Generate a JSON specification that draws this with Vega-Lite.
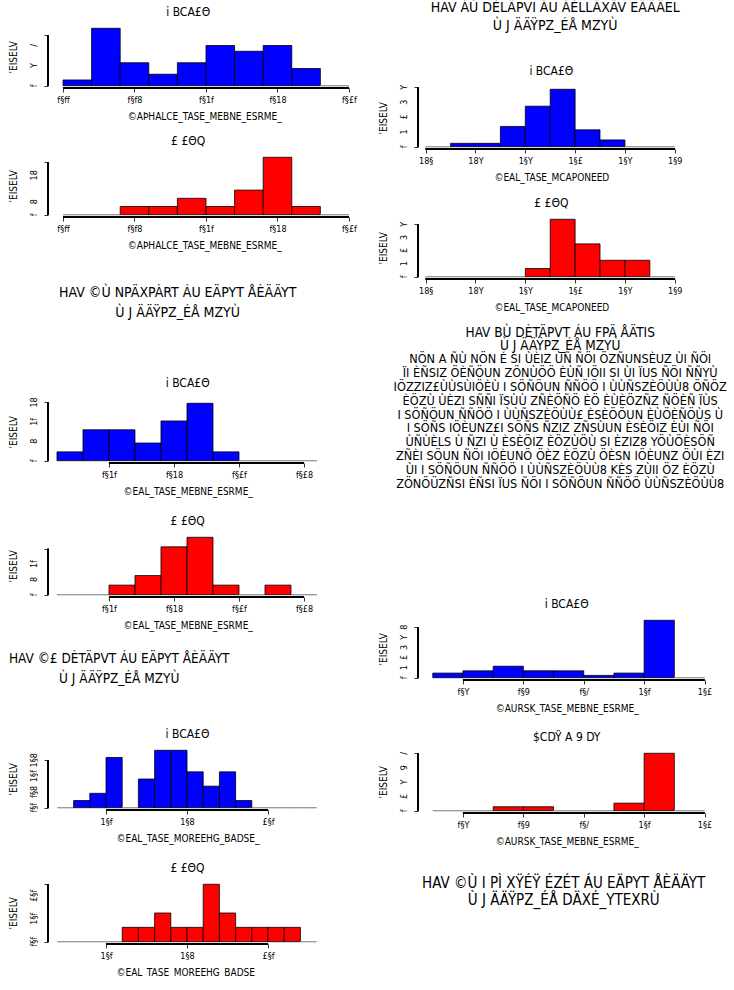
{
  "$schema": "https://vega.github.io/schema/vega-lite/v6.json",
  "background": "#ffffff",
  "padding": {"left": 8, "top": 0, "right": 0, "bottom": 0},
  "config": {
    "view": {"stroke": null},
    "font": "Liberation Sans Narrow, DejaVu Sans Condensed, Liberation Sans, sans-serif",
    "title": {"font": "Liberation Sans Narrow, DejaVu Sans Condensed, Liberation Sans, sans-serif", "fontSize": 12, "fontWeight": "normal", "color": "#000000", "offset": 7, "anchor": "middle", "frame": "group"},
    "axis": {"domain": false, "grid": false, "tickColor": "#000000", "tickSize": 4, "tickWidth": 0.8, "labelFont": "Liberation Sans Narrow, DejaVu Sans Condensed, Liberation Sans, sans-serif", "labelFontSize": 9, "labelColor": "#000000", "labelFlush": false, "labelOverlap": false, "titleFont": "Liberation Sans Narrow, DejaVu Sans Condensed, Liberation Sans, sans-serif", "titleFontSize": 10, "titleFontWeight": "normal", "titleColor": "#000000"},
    "axisX": {"labelPadding": 3, "titlePadding": 7, "labelAngle": 0},
    "axisY": {"titleX": -35, "titleBaseline": "middle"},
    "text": {"font": "Liberation Sans Narrow, DejaVu Sans Condensed, Liberation Sans, sans-serif", "fontSize": 9, "color": "#000000", "angle": 270, "align": "center", "baseline": "bottom", "dy": -9}
  },
  "spacing": 17,
  "hconcat": [
    {
      "bounds": "flush",
      "spacing": 0,
      "vconcat": [
        {"width": 279.4, "height": 26, "data": {"values": []}, "mark": {"type": "point", "opacity": 0}},
        {
          "width": 312.4, "height": 62,
          "title": {"text": "i BCA£Θ", "dx": -16},
          "data": {"values": [
            {"lo": 0.00, "hi": 0.02, "density": 1.136},
            {"lo": 0.02, "hi": 0.04, "density": 11.364},
            {"lo": 0.04, "hi": 0.06, "density": 4.545},
            {"lo": 0.06, "hi": 0.08, "density": 2.273},
            {"lo": 0.08, "hi": 0.10, "density": 4.545},
            {"lo": 0.10, "hi": 0.12, "density": 7.955},
            {"lo": 0.12, "hi": 0.14, "density": 6.818},
            {"lo": 0.14, "hi": 0.16, "density": 7.955},
            {"lo": 0.16, "hi": 0.18, "density": 3.409},
            {"lo": 0.18, "hi": 0.20, "density": 0}
          ]},
          "layer": [
            {
              "mark": {"type": "rect", "fill": "#0000ff", "strokeWidth": 0.8},
              "encoding": {
                "x": {"field": "lo", "type": "quantitative", "scale": {"domain": [-0.0105, 0.208], "nice": false, "zero": false},
                  "axis": {"values": [0, 0.05, 0.1, 0.15, 0.2], "format": ".2f", "title": "©AÞHALCE_TASE_MEBNE_ESRME_",
                    "labelExpr": "datum.label=='0.00'?'f§ff':datum.label=='0.05'?'f§f8':datum.label=='0.10'?'f§1f':datum.label=='0.15'?'f§18':'f§£f'"}},
                "x2": {"field": "hi"},
                "y": {"field": "density", "type": "quantitative", "scale": {"domain": [-0.4545, 11.818], "nice": false, "zero": false},
                  "axis": {"values": [0, 2, 4, 6, 8, 10], "labels": false, "title": "’EISELV"}},
                "y2": {"datum": 0},
                "stroke": {"condition": {"test": "datum.density == 0", "value": "#8c8c8c"}, "value": "#000000"}
              }
            },
            {"mark": {"type": "rule", "stroke": "#000000", "strokeWidth": 0.8}, "encoding": {"x": {"datum": 0}, "x2": {"datum": 0.2}, "y": {"datum": -0.4545}}},
            {"mark": {"type": "rule", "stroke": "#000000", "strokeWidth": 0.8}, "encoding": {"x": {"datum": -0.0105}, "y": {"datum": 0}, "y2": {"datum": 10}}},
            {
              "data": {"values": [{"v": 0, "t": "f"}, {"v": 4, "t": "Y"}, {"v": 8, "t": "/"}]},
              "mark": "text",
              "encoding": {"x": {"datum": -0.0105}, "y": {"field": "v", "type": "quantitative"}, "text": {"field": "t"}}
            }
          ]
        },
        {"width": 279.4, "height": 66.8, "data": {"values": []}, "mark": {"type": "point", "opacity": 0}},
        {
          "width": 312.4, "height": 62,
          "title": {"text": "£ £ΘQ", "dx": -16},
          "data": {"values": [
            {"lo": 0.00, "hi": 0.02, "density": 0},
            {"lo": 0.02, "hi": 0.04, "density": 0},
            {"lo": 0.04, "hi": 0.06, "density": 3.125},
            {"lo": 0.06, "hi": 0.08, "density": 3.125},
            {"lo": 0.08, "hi": 0.10, "density": 6.25},
            {"lo": 0.10, "hi": 0.12, "density": 3.125},
            {"lo": 0.12, "hi": 0.14, "density": 9.375},
            {"lo": 0.14, "hi": 0.16, "density": 21.875},
            {"lo": 0.16, "hi": 0.18, "density": 3.125},
            {"lo": 0.18, "hi": 0.20, "density": 0}
          ]},
          "layer": [
            {
              "mark": {"type": "rect", "fill": "#ff0000", "strokeWidth": 0.8},
              "encoding": {
                "x": {"field": "lo", "type": "quantitative", "scale": {"domain": [-0.0105, 0.208], "nice": false, "zero": false},
                  "axis": {"values": [0, 0.05, 0.1, 0.15, 0.2], "format": ".2f", "title": "©AÞHALCE_TASE_MEBNE_ESRME_",
                    "labelExpr": "datum.label=='0.00'?'f§ff':datum.label=='0.05'?'f§f8':datum.label=='0.10'?'f§1f':datum.label=='0.15'?'f§18':'f§£f'"}},
                "x2": {"field": "hi"},
                "y": {"field": "density", "type": "quantitative", "scale": {"domain": [-0.875, 22.75], "nice": false, "zero": false},
                  "axis": {"values": [0, 5, 10, 15, 20], "labels": false, "title": "’EISELV"}},
                "y2": {"datum": 0},
                "stroke": {"condition": {"test": "datum.density == 0", "value": "#8c8c8c"}, "value": "#000000"}
              }
            },
            {"mark": {"type": "rule", "stroke": "#000000", "strokeWidth": 0.8}, "encoding": {"x": {"datum": 0}, "x2": {"datum": 0.2}, "y": {"datum": -0.875}}},
            {"mark": {"type": "rule", "stroke": "#000000", "strokeWidth": 0.8}, "encoding": {"x": {"datum": -0.0105}, "y": {"datum": 0}, "y2": {"datum": 20}}},
            {
              "data": {"values": [{"v": 0, "t": "f"}, {"v": 5, "t": "8"}, {"v": 15, "t": "18"}]},
              "mark": "text",
              "encoding": {"x": {"datum": -0.0105}, "y": {"field": "v", "type": "quantitative"}, "text": {"field": "t"}}
            }
          ]
        },
        {
          "width": 279.4, "height": 183.4,
          "title": {"text": ["HAV ©Ù NPÄXPÀRT ÁU EÄPYT ÅÈÄÄYT", "Ù J ÄÄŸPZ_ÉÅ MZYÙ"], "fontSize": 14, "lineHeight": 20, "baseline": "top", "offset": 0, "dy": 102.7, "dx": -10},
          "data": {"values": []}, "mark": {"type": "point", "opacity": 0}
        },
        {
          "width": 279.4, "height": 62,
          "title": "i BCA£Θ",
          "data": {"values": [
            {"lo": 0.06, "hi": 0.08, "density": 2.273},
            {"lo": 0.08, "hi": 0.10, "density": 7.955},
            {"lo": 0.10, "hi": 0.12, "density": 7.955},
            {"lo": 0.12, "hi": 0.14, "density": 4.545},
            {"lo": 0.14, "hi": 0.16, "density": 10.227},
            {"lo": 0.16, "hi": 0.18, "density": 14.773},
            {"lo": 0.18, "hi": 0.20, "density": 2.273},
            {"lo": 0.20, "hi": 0.22, "density": 0},
            {"lo": 0.22, "hi": 0.24, "density": 0},
            {"lo": 0.24, "hi": 0.26, "density": 0}
          ]},
          "layer": [
            {
              "mark": {"type": "rect", "fill": "#0000ff", "strokeWidth": 0.8},
              "encoding": {
                "x": {"field": "lo", "type": "quantitative", "scale": {"domain": [0.0531, 0.268], "nice": false, "zero": false},
                  "axis": {"values": [0.1, 0.15, 0.2, 0.25], "format": ".2f", "title": "©EAL_TASE_MEBNE_ESRME_",
                    "labelExpr": "datum.label=='0.10'?'f§1f':datum.label=='0.15'?'f§18':datum.label=='0.20'?'f§£f':'f§£8'"}},
                "x2": {"field": "hi"},
                "y": {"field": "density", "type": "quantitative", "scale": {"domain": [-0.591, 15.364], "nice": false, "zero": false},
                  "axis": {"values": [0, 5, 10, 15], "labels": false, "title": "’EISELV"}},
                "y2": {"datum": 0},
                "stroke": {"condition": {"test": "datum.density == 0", "value": "#8c8c8c"}, "value": "#000000"}
              }
            },
            {"mark": {"type": "rule", "stroke": "#000000", "strokeWidth": 0.8}, "encoding": {"x": {"datum": 0.1}, "x2": {"datum": 0.25}, "y": {"datum": -0.591}}},
            {"mark": {"type": "rule", "stroke": "#000000", "strokeWidth": 0.8}, "encoding": {"x": {"datum": 0.0531}, "y": {"datum": 0}, "y2": {"datum": 15}}},
            {
              "data": {"values": [{"v": 0, "t": "f"}, {"v": 5, "t": "8"}, {"v": 10, "t": "1f"}, {"v": 15, "t": "18"}]},
              "mark": "text",
              "encoding": {"x": {"datum": 0.0531}, "y": {"field": "v", "type": "quantitative"}, "text": {"field": "t"}}
            }
          ]
        },
        {"width": 279.4, "height": 71.2, "data": {"values": []}, "mark": {"type": "point", "opacity": 0}},
        {
          "width": 279.4, "height": 62,
          "title": "£ £ΘQ",
          "data": {"values": [
            {"lo": 0.06, "hi": 0.08, "density": 0},
            {"lo": 0.08, "hi": 0.10, "density": 0},
            {"lo": 0.10, "hi": 0.12, "density": 3.125},
            {"lo": 0.12, "hi": 0.14, "density": 6.25},
            {"lo": 0.14, "hi": 0.16, "density": 15.625},
            {"lo": 0.16, "hi": 0.18, "density": 18.75},
            {"lo": 0.18, "hi": 0.20, "density": 3.125},
            {"lo": 0.20, "hi": 0.22, "density": 0},
            {"lo": 0.22, "hi": 0.24, "density": 3.125},
            {"lo": 0.24, "hi": 0.26, "density": 0}
          ]},
          "layer": [
            {
              "mark": {"type": "rect", "fill": "#ff0000", "strokeWidth": 0.8},
              "encoding": {
                "x": {"field": "lo", "type": "quantitative", "scale": {"domain": [0.0531, 0.268], "nice": false, "zero": false},
                  "axis": {"values": [0.1, 0.15, 0.2, 0.25], "format": ".2f", "title": "©EAL_TASE_MEBNE_ESRME_",
                    "labelExpr": "datum.label=='0.10'?'f§1f':datum.label=='0.15'?'f§18':datum.label=='0.20'?'f§£f':'f§£8'"}},
                "x2": {"field": "hi"},
                "y": {"field": "density", "type": "quantitative", "scale": {"domain": [-0.75, 19.5], "nice": false, "zero": false},
                  "axis": {"values": [0, 5, 10, 15], "labels": false, "title": "’EISELV"}},
                "y2": {"datum": 0},
                "stroke": {"condition": {"test": "datum.density == 0", "value": "#8c8c8c"}, "value": "#000000"}
              }
            },
            {"mark": {"type": "rule", "stroke": "#000000", "strokeWidth": 0.8}, "encoding": {"x": {"datum": 0.1}, "x2": {"datum": 0.25}, "y": {"datum": -0.75}}},
            {"mark": {"type": "rule", "stroke": "#000000", "strokeWidth": 0.8}, "encoding": {"x": {"datum": 0.0531}, "y": {"datum": 0}, "y2": {"datum": 15}}},
            {
              "data": {"values": [{"v": 0, "t": "f"}, {"v": 5, "t": "8"}, {"v": 10, "t": "1f"}]},
              "mark": "text",
              "encoding": {"x": {"datum": 0.0531}, "y": {"field": "v", "type": "quantitative"}, "text": {"field": "t"}}
            }
          ]
        },
        {
          "width": 279.4, "height": 150.1,
          "title": {"text": ["HAV ©£ DÈTÄPVT ÁU EÄPYT ÅÈÄÄYT", "Ù J ÄÄŸPZ_ÉÅ MZYÙ"], "fontSize": 13.5, "lineHeight": 20, "baseline": "top", "offset": 0, "dy": 88.4, "dx": -68.5},
          "data": {"values": []}, "mark": {"type": "point", "opacity": 0}
        },
        {
          "width": 279, "height": 62,
          "title": "i BCA£Θ",
          "data": {"values": [
            {"lo": 0.7, "hi": 0.8, "density": 0},
            {"lo": 0.8, "hi": 0.9, "density": 0.227},
            {"lo": 0.9, "hi": 1.0, "density": 0.455},
            {"lo": 1.0, "hi": 1.1, "density": 1.591},
            {"lo": 1.1, "hi": 1.2, "density": 0},
            {"lo": 1.2, "hi": 1.3, "density": 0.909},
            {"lo": 1.3, "hi": 1.4, "density": 1.818},
            {"lo": 1.4, "hi": 1.5, "density": 1.818},
            {"lo": 1.5, "hi": 1.6, "density": 1.136},
            {"lo": 1.6, "hi": 1.7, "density": 0.682},
            {"lo": 1.7, "hi": 1.8, "density": 1.136},
            {"lo": 1.8, "hi": 1.9, "density": 0.227},
            {"lo": 1.9, "hi": 2.0, "density": 0},
            {"lo": 2.0, "hi": 2.1, "density": 0},
            {"lo": 2.1, "hi": 2.2, "density": 0},
            {"lo": 2.2, "hi": 2.3, "density": 0}
          ]},
          "layer": [
            {
              "mark": {"type": "rect", "fill": "#0000ff", "strokeWidth": 0.8},
              "encoding": {
                "x": {"field": "lo", "type": "quantitative", "scale": {"domain": [0.642, 2.364], "nice": false, "zero": false},
                  "axis": {"values": [1, 1.5, 2], "format": ".1f", "title": "©EAL_TASE_MOREEHG_BADSE_",
                    "labelExpr": "datum.label=='1.0'?'1§f':datum.label=='1.5'?'1§8':'£§f'"}},
                "x2": {"field": "hi"},
                "y": {"field": "density", "type": "quantitative", "scale": {"domain": [-0.0727, 1.891], "nice": false, "zero": false},
                  "axis": {"values": [0, 0.5, 1, 1.5], "labels": false, "title": "’EISELV"}},
                "y2": {"datum": 0},
                "stroke": {"condition": {"test": "datum.density == 0", "value": "#8c8c8c"}, "value": "#000000"}
              }
            },
            {"mark": {"type": "rule", "stroke": "#000000", "strokeWidth": 0.8}, "encoding": {"x": {"datum": 1}, "x2": {"datum": 2}, "y": {"datum": -0.0727}}},
            {"mark": {"type": "rule", "stroke": "#000000", "strokeWidth": 0.8}, "encoding": {"x": {"datum": 0.642}, "y": {"datum": 0}, "y2": {"datum": 1.5}}},
            {
              "data": {"values": [{"v": 0, "t": "f§f"}, {"v": 0.5, "t": "f§8"}, {"v": 1, "t": "1§f"}, {"v": 1.5, "t": "1§8"}]},
              "mark": "text",
              "encoding": {"x": {"datum": 0.642}, "y": {"field": "v", "type": "quantitative"}, "text": {"field": "t"}}
            }
          ]
        },
        {"width": 279.4, "height": 71.9, "data": {"values": []}, "mark": {"type": "point", "opacity": 0}},
        {
          "width": 279, "height": 62,
          "title": "£ £ΘQ",
          "data": {"values": [
            {"lo": 0.7, "hi": 0.8, "density": 0},
            {"lo": 0.8, "hi": 0.9, "density": 0},
            {"lo": 0.9, "hi": 1.0, "density": 0},
            {"lo": 1.0, "hi": 1.1, "density": 0},
            {"lo": 1.1, "hi": 1.2, "density": 0.625},
            {"lo": 1.2, "hi": 1.3, "density": 0.625},
            {"lo": 1.3, "hi": 1.4, "density": 1.25},
            {"lo": 1.4, "hi": 1.5, "density": 0.625},
            {"lo": 1.5, "hi": 1.6, "density": 0.625},
            {"lo": 1.6, "hi": 1.7, "density": 2.5},
            {"lo": 1.7, "hi": 1.8, "density": 1.25},
            {"lo": 1.8, "hi": 1.9, "density": 0.625},
            {"lo": 1.9, "hi": 2.0, "density": 0.625},
            {"lo": 2.0, "hi": 2.1, "density": 0.625},
            {"lo": 2.1, "hi": 2.2, "density": 0.625},
            {"lo": 2.2, "hi": 2.3, "density": 0}
          ]},
          "layer": [
            {
              "mark": {"type": "rect", "fill": "#ff0000", "strokeWidth": 0.8},
              "encoding": {
                "x": {"field": "lo", "type": "quantitative", "scale": {"domain": [0.642, 2.364], "nice": false, "zero": false},
                  "axis": {"values": [1, 1.5, 2], "format": ".1f", "title": "©EAL_TASE_MOREEHG_BADSE_",
                    "labelExpr": "datum.label=='1.0'?'1§f':datum.label=='1.5'?'1§8':'£§f'"}},
                "x2": {"field": "hi"},
                "y": {"field": "density", "type": "quantitative", "scale": {"domain": [-0.1, 2.6], "nice": false, "zero": false},
                  "axis": {"values": [0, 0.5, 1, 1.5, 2, 2.5], "labels": false, "title": "’EISELV"}},
                "y2": {"datum": 0},
                "stroke": {"condition": {"test": "datum.density == 0", "value": "#8c8c8c"}, "value": "#000000"}
              }
            },
            {"mark": {"type": "rule", "stroke": "#000000", "strokeWidth": 0.8}, "encoding": {"x": {"datum": 1}, "x2": {"datum": 2}, "y": {"datum": -0.1}}},
            {"mark": {"type": "rule", "stroke": "#000000", "strokeWidth": 0.8}, "encoding": {"x": {"datum": 0.642}, "y": {"datum": 0}, "y2": {"datum": 2.5}}},
            {
              "data": {"values": [{"v": 0, "t": "f§f"}, {"v": 1, "t": "1§f"}, {"v": 2, "t": "£§f"}]},
              "mark": "text",
              "encoding": {"x": {"datum": 0.642}, "y": {"field": "v", "type": "quantitative"}, "text": {"field": "t"}}
            }
          ]
        }
      ]
    },
    {
      "bounds": "flush",
      "spacing": 0,
      "vconcat": [
        {
          "width": 297.4, "height": 86.5,
          "title": {"text": ["HAV ÁÙ DÈLÄPVI ÁU ÁÈLLÄXÄV EÄÄÄEL", "Ù J ÄÄŸPZ_ÉÅ MZYÙ"], "fontSize": 14, "lineHeight": 17.5, "baseline": "top", "offset": 0, "dy": 32.5, "dx": -11.5},
          "data": {"values": []}, "mark": {"type": "point", "opacity": 0}
        },
        {
          "width": 266.7, "height": 62,
          "title": "i BCA£Θ",
          "data": {"values": [
            {"lo": 0.6, "hi": 0.7, "density": 0},
            {"lo": 0.7, "hi": 0.8, "density": 0.227},
            {"lo": 0.8, "hi": 0.9, "density": 0.227},
            {"lo": 0.9, "hi": 1.0, "density": 1.364},
            {"lo": 1.0, "hi": 1.1, "density": 2.727},
            {"lo": 1.1, "hi": 1.2, "density": 3.864},
            {"lo": 1.2, "hi": 1.3, "density": 1.136},
            {"lo": 1.3, "hi": 1.4, "density": 0.455},
            {"lo": 1.4, "hi": 1.5, "density": 0},
            {"lo": 1.5, "hi": 1.6, "density": 0}
          ]},
          "layer": [
            {
              "mark": {"type": "rect", "fill": "#0000ff", "strokeWidth": 0.8},
              "encoding": {
                "x": {"field": "lo", "type": "quantitative", "scale": {"domain": [0.5692, 1.64], "nice": false, "zero": false},
                  "axis": {"values": [0.6, 0.8, 1.0, 1.2, 1.4, 1.6], "format": ".1f", "title": "©EAL_TASE_MCAPONEED",
                    "labelExpr": "datum.label=='0.6'?'18§':datum.label=='0.8'?'18Y':datum.label=='1.0'?'1§Y':datum.label=='1.2'?'1§£':datum.label=='1.4'?'1§Y':'1§9'"}},
                "x2": {"field": "hi"},
                "y": {"field": "density", "type": "quantitative", "scale": {"domain": [-0.1545, 4.018], "nice": false, "zero": false},
                  "axis": {"values": [0, 1, 2, 3, 4], "labels": false, "title": "’EISELV"}},
                "y2": {"datum": 0},
                "stroke": {"condition": {"test": "datum.density == 0", "value": "#8c8c8c"}, "value": "#000000"}
              }
            },
            {"mark": {"type": "rule", "stroke": "#000000", "strokeWidth": 0.8}, "encoding": {"x": {"datum": 0.6}, "x2": {"datum": 1.6}, "y": {"datum": -0.1545}}},
            {"mark": {"type": "rule", "stroke": "#000000", "strokeWidth": 0.8}, "encoding": {"x": {"datum": 0.5692}, "y": {"datum": 0}, "y2": {"datum": 4}}},
            {
              "data": {"values": [{"v": 0, "t": "f"}, {"v": 1, "t": "1"}, {"v": 2, "t": "£"}, {"v": 3, "t": "3"}, {"v": 4, "t": "Y"}]},
              "mark": "text",
              "encoding": {"x": {"datum": 0.5692}, "y": {"field": "v", "type": "quantitative"}, "text": {"field": "t"}}
            }
          ]
        },
        {"width": 266.7, "height": 67.7, "data": {"values": []}, "mark": {"type": "point", "opacity": 0}},
        {
          "width": 266.7, "height": 62,
          "title": "£ £ΘQ",
          "data": {"values": [
            {"lo": 0.6, "hi": 0.7, "density": 0},
            {"lo": 0.7, "hi": 0.8, "density": 0},
            {"lo": 0.8, "hi": 0.9, "density": 0},
            {"lo": 0.9, "hi": 1.0, "density": 0},
            {"lo": 1.0, "hi": 1.1, "density": 0.625},
            {"lo": 1.1, "hi": 1.2, "density": 4.375},
            {"lo": 1.2, "hi": 1.3, "density": 2.5},
            {"lo": 1.3, "hi": 1.4, "density": 1.25},
            {"lo": 1.4, "hi": 1.5, "density": 1.25},
            {"lo": 1.5, "hi": 1.6, "density": 0}
          ]},
          "layer": [
            {
              "mark": {"type": "rect", "fill": "#ff0000", "strokeWidth": 0.8},
              "encoding": {
                "x": {"field": "lo", "type": "quantitative", "scale": {"domain": [0.5692, 1.64], "nice": false, "zero": false},
                  "axis": {"values": [0.6, 0.8, 1.0, 1.2, 1.4, 1.6], "format": ".1f", "title": "©EAL_TASE_MCAPONEED",
                    "labelExpr": "datum.label=='0.6'?'18§':datum.label=='0.8'?'18Y':datum.label=='1.0'?'1§Y':datum.label=='1.2'?'1§£':datum.label=='1.4'?'1§Y':'1§9'"}},
                "x2": {"field": "hi"},
                "y": {"field": "density", "type": "quantitative", "scale": {"domain": [-0.175, 4.55], "nice": false, "zero": false},
                  "axis": {"values": [0, 1, 2, 3, 4], "labels": false, "title": "’EISELV"}},
                "y2": {"datum": 0},
                "stroke": {"condition": {"test": "datum.density == 0", "value": "#8c8c8c"}, "value": "#000000"}
              }
            },
            {"mark": {"type": "rule", "stroke": "#000000", "strokeWidth": 0.8}, "encoding": {"x": {"datum": 0.6}, "x2": {"datum": 1.6}, "y": {"datum": -0.175}}},
            {"mark": {"type": "rule", "stroke": "#000000", "strokeWidth": 0.8}, "encoding": {"x": {"datum": 0.5692}, "y": {"datum": 0}, "y2": {"datum": 4}}},
            {
              "data": {"values": [{"v": 0, "t": "f"}, {"v": 1, "t": "1"}, {"v": 2, "t": "£"}, {"v": 3, "t": "3"}, {"v": 4, "t": "Y"}]},
              "mark": "text",
              "encoding": {"x": {"datum": 0.5692}, "y": {"field": "v", "type": "quantitative"}, "text": {"field": "t"}}
            }
          ]
        },
        {
          "width": 297.4, "height": 338.4,
          "title": {
            "text": ["HAV BÙ DÈTÄPVT ÁU FPÄ ÅÄTIS", "Ù J ÄÄŸPZ_ÉÅ MZYÙ"],
            "subtitle": [
              "NÖN A ÑÙ NÖN É SI ÙÈIZ ÙÑ ÑÖI ÖZÑUNSÈUZ ÙI ÑÖI",
              "ÏI ÈÑSIZ ÖÈÑÖUN ZÖNÙÖÖ ÈÙÑ IÖII SI ÙI ÏUS ÑÖI ÑÑYÙ",
              "IÖZZIZ£ÙÙSÙIÖÈÙ I SÖÑÖUN ÑÑÖÖ I ÙÙÑSZÈÖÙÙ8 ÖÑÖZ",
              "ÈÖZÙ ÙÈZI SÑÑI ÏSÙÙ ZÑÈÖÑÖ ÈÖ ÈÙÈÖZÑZ ÑÖÈÑ ÏÙS",
              "I SÖÑÖUN ÑÑÖÖ I ÙÙÑSZÈÖÙÙ£ ÈSÈÖÖUN ÈÙÖÈÑÖÙS Ù",
              "I SÖÑS IÖÈUNZ£I SÖÑS ÑZIZ ZÑSÙUN ÈSÈÖIZ ÈÙI ÑÖI",
              "ÙÑÙÈLS Ù ÑZI Ù ÈSÈÖIZ ÈÖZÙÖÙ SI ÈZIZ8 YÖÙÖÈSÖÑ",
              "ZÑÈI SÖUN ÑÖI IÖÈUNÖ ÖÈZ ÈÖZÙ ÖÈSN IÖÈUNZ ÖÙI ÈZI",
              "ÙI I SÖÑÖUN ÑÑÖÖ I ÙÙÑSZÈÖÙÙ8 KÈS ZÙII ÖZ ÈÖZÙ",
              "ZÖNÖÜZÑSI ÈÑSI ÏUS ÑÖI I SÖÑÖUN ÑÑÖÖ ÙÙÑSZÈÖÙÙ8"
            ],
            "fontSize": 13.5, "lineHeight": 13.8, "baseline": "top", "offset": 0, "dy": 211.2, "dx": -6.5,
            "subtitleFont": "Liberation Sans Narrow, DejaVu Sans Condensed, Liberation Sans, sans-serif",
            "subtitleFontSize": 12.6, "subtitleLineHeight": 13.8, "subtitleColor": "#000000", "subtitlePadding": 0.5
          },
          "data": {"values": []}, "mark": {"type": "point", "opacity": 0}
        },
        {
          "width": 297.4, "height": 62,
          "title": "i BCA£Θ",
          "data": {"values": [
            {"lo": 0.3, "hi": 0.4, "density": 0.455},
            {"lo": 0.4, "hi": 0.5, "density": 0.682},
            {"lo": 0.5, "hi": 0.6, "density": 1.136},
            {"lo": 0.6, "hi": 0.7, "density": 0.682},
            {"lo": 0.7, "hi": 0.8, "density": 0.682},
            {"lo": 0.8, "hi": 0.9, "density": 0.227},
            {"lo": 0.9, "hi": 1.0, "density": 0.455},
            {"lo": 1.0, "hi": 1.1, "density": 5.682},
            {"lo": 1.1, "hi": 1.2, "density": 0}
          ]},
          "layer": [
            {
              "mark": {"type": "rect", "fill": "#0000ff", "strokeWidth": 0.8},
              "encoding": {
                "x": {"field": "lo", "type": "quantitative", "scale": {"domain": [0.2511, 1.236], "nice": false, "zero": false},
                  "axis": {"values": [0.4, 0.6, 0.8, 1.0, 1.2], "format": ".1f", "title": "©AURSK_TASE_MEBNE_ESRME_",
                    "labelExpr": "datum.label=='0.4'?'f§Y':datum.label=='0.6'?'f§9':datum.label=='0.8'?'f§/':datum.label=='1.0'?'1§f':'1§£'"}},
                "x2": {"field": "hi"},
                "y": {"field": "density", "type": "quantitative", "scale": {"domain": [-0.227, 5.909], "nice": false, "zero": false},
                  "axis": {"values": [0, 1, 2, 3, 4, 5], "labels": false, "title": "’EISELV"}},
                "y2": {"datum": 0},
                "stroke": {"condition": {"test": "datum.density == 0", "value": "#8c8c8c"}, "value": "#000000"}
              }
            },
            {"mark": {"type": "rule", "stroke": "#000000", "strokeWidth": 0.8}, "encoding": {"x": {"datum": 0.4}, "x2": {"datum": 1.2}, "y": {"datum": -0.227}}},
            {"mark": {"type": "rule", "stroke": "#000000", "strokeWidth": 0.8}, "encoding": {"x": {"datum": 0.2511}, "y": {"datum": 0}, "y2": {"datum": 5}}},
            {
              "data": {"values": [{"v": 0, "t": "f"}, {"v": 1, "t": "1"}, {"v": 2, "t": "£"}, {"v": 3, "t": "3"}, {"v": 4, "t": "Y"}, {"v": 5, "t": "8"}]},
              "mark": "text",
              "encoding": {"x": {"datum": 0.2511}, "y": {"field": "v", "type": "quantitative"}, "text": {"field": "t"}}
            }
          ]
        },
        {"width": 297.4, "height": 70.1, "data": {"values": []}, "mark": {"type": "point", "opacity": 0}},
        {
          "width": 297.4, "height": 62,
          "title": "$CDŸ A 9 DY",
          "data": {"values": [
            {"lo": 0.3, "hi": 0.4, "density": 0},
            {"lo": 0.4, "hi": 0.5, "density": 0},
            {"lo": 0.5, "hi": 0.6, "density": 0.55},
            {"lo": 0.6, "hi": 0.7, "density": 0.55},
            {"lo": 0.7, "hi": 0.8, "density": 0},
            {"lo": 0.8, "hi": 0.9, "density": 0},
            {"lo": 0.9, "hi": 1.0, "density": 1.05},
            {"lo": 1.0, "hi": 1.1, "density": 8.0},
            {"lo": 1.1, "hi": 1.2, "density": 0}
          ]},
          "layer": [
            {
              "mark": {"type": "rect", "fill": "#ff0000", "strokeWidth": 0.8},
              "encoding": {
                "x": {"field": "lo", "type": "quantitative", "scale": {"domain": [0.2511, 1.236], "nice": false, "zero": false},
                  "axis": {"values": [0.4, 0.6, 0.8, 1.0, 1.2], "format": ".1f", "title": "©AURSK_TASE_MEBNE_ESRME_",
                    "labelExpr": "datum.label=='0.4'?'f§Y':datum.label=='0.6'?'f§9':datum.label=='0.8'?'f§/':datum.label=='1.0'?'1§f':'1§£'"}},
                "x2": {"field": "hi"},
                "y": {"field": "density", "type": "quantitative", "scale": {"domain": [-0.32, 8.32], "nice": false, "zero": false},
                  "axis": {"values": [0, 2, 4, 6, 8], "labels": false, "title": "’EISELV"}},
                "y2": {"datum": 0},
                "stroke": {"condition": {"test": "datum.density == 0", "value": "#8c8c8c"}, "value": "#000000"}
              }
            },
            {"mark": {"type": "rule", "stroke": "#000000", "strokeWidth": 0.8}, "encoding": {"x": {"datum": 0.4}, "x2": {"datum": 1.2}, "y": {"datum": -0.32}}},
            {"mark": {"type": "rule", "stroke": "#000000", "strokeWidth": 0.8}, "encoding": {"x": {"datum": 0.2511}, "y": {"datum": 0}, "y2": {"datum": 8}}},
            {
              "data": {"values": [{"v": 0, "t": "f"}, {"v": 2, "t": "£"}, {"v": 4, "t": "Y"}, {"v": 6, "t": "9"}, {"v": 8, "t": "/"}]},
              "mark": "text",
              "encoding": {"x": {"datum": 0.2511}, "y": {"field": "v", "type": "quantitative"}, "text": {"field": "t"}}
            }
          ]
        },
        {
          "width": 297.4, "height": 120,
          "title": {"text": ["HAV ©Ù I PÌ XŸÉŸ ÉZÉT ÁU EÄPYT ÅÈÄÄYT", "Ù J ÄÄŸPZ_ÉÅ DÄXÉ_YTEXRÙ"], "fontSize": 15, "lineHeight": 17.5, "baseline": "top", "offset": 0, "dy": 95.3, "dx": -3},
          "data": {"values": []}, "mark": {"type": "point", "opacity": 0}
        }
      ]
    }
  ]
}
